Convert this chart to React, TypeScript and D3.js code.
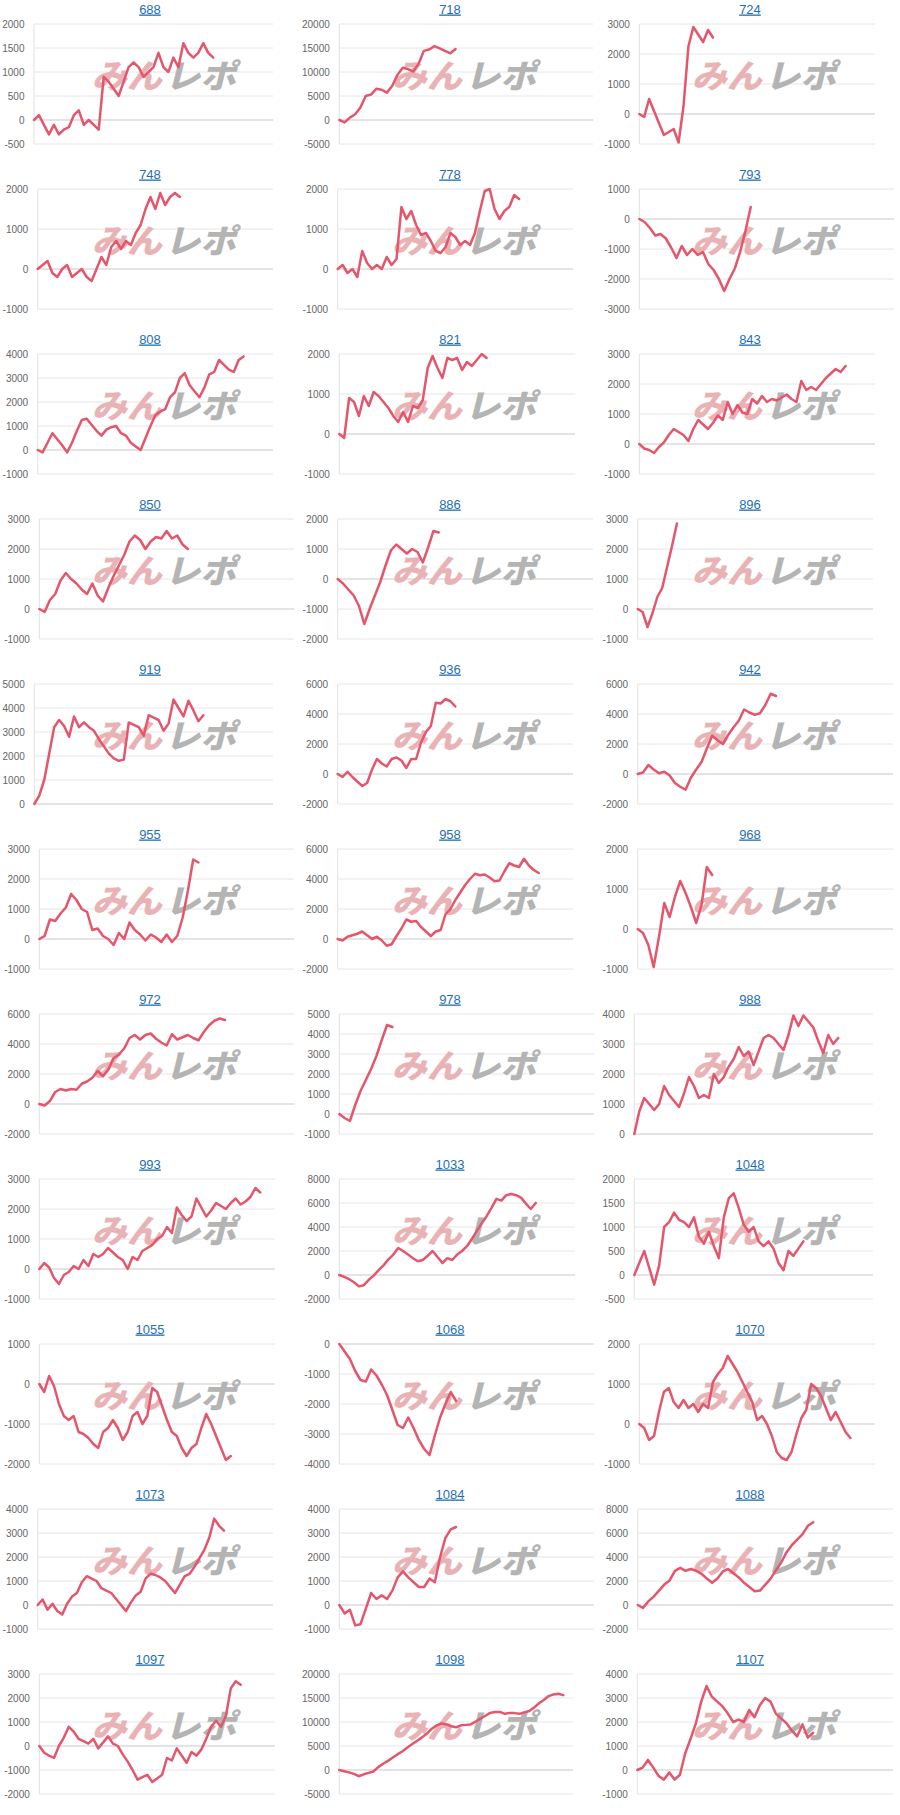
import React from 'react';
import * as d3 from 'd3';

const IDS = ['688','718','724','748','778','793','808','821','843','850','886','896','919','936','942','955','958','968','972','978','988','993','1033','1048','1055','1068','1070','1073','1084','1088','1097','1098','1107'];

const S688 = [0,100,-100,-300,-100,-300,-200,-150,100,200,-100,0,-100,-200,900,800,650,500,800,1100,1200,1100,900,1000,1100,1400,1100,1000,1300,1100,1600,1400,1300,1400,1600,1400,1300];
const S718 = [0,-500,500,1200,2600,5000,5300,6500,6300,5700,7100,9400,10900,10600,10100,11700,14400,14700,15400,14900,14400,13900,14800];
const S724 = [0,-100,500,100,-300,-700,-600,-500,-950,250,2250,2900,2650,2400,2800,2550];
const S748 = [0,100,200,-100,-200,0,100,-200,-100,0,-200,-300,0,300,100,550,700,500,700,600,900,1100,1500,1800,1500,1900,1600,1800,1900,1800];
const S778 = [0,100,-100,0,-200,450,150,0,100,0,300,100,250,1550,1250,1450,1100,850,900,700,450,400,550,900,800,600,700,600,900,1450,1950,2000,1500,1250,1450,1550,1850,1750];
const S793 = [0,-100,-300,-550,-500,-650,-950,-1300,-900,-1200,-1000,-1200,-1100,-1500,-1700,-2000,-2400,-2000,-1650,-1100,-400,400];
const S808 = [0,-100,300,700,450,200,-100,300,800,1250,1300,1050,800,600,850,950,1000,700,600,300,150,0,500,1000,1450,1600,1700,2200,2400,3000,3200,2700,2450,2200,2600,3150,3250,3750,3550,3350,3250,3750,3900];
const S821 = [0,-100,900,800,450,950,700,1050,950,800,650,450,300,550,300,700,650,850,1650,1950,1650,1400,1900,1850,1900,1600,1800,1700,1850,2000,1900];
const S843 = [0,-150,-200,-300,-100,50,300,500,400,300,100,500,800,650,500,700,950,800,1400,1000,1300,1050,1000,1500,1350,1600,1400,1500,1450,1550,1650,1500,1400,2100,1800,1900,1800,2000,2200,2350,2500,2400,2600];
const S850 = [0,-100,300,500,950,1200,1000,850,650,500,850,450,250,700,1100,1450,1800,2250,2450,2300,2000,2250,2400,2350,2600,2350,2450,2150,2000];
const S886 = [0,-150,-350,-550,-900,-1500,-1000,-550,-100,450,950,1150,1000,850,1000,900,550,1050,1600,1550];
const S896 = [0,-100,-600,-150,400,700,1400,2100,2850];
const S919 = [0,350,1000,2100,3200,3500,3250,2800,3650,3200,3400,3200,3050,2700,2400,2100,1900,1800,1850,3400,3300,3200,2850,3700,3600,3500,3050,3350,4350,4000,3650,4300,3900,3450,3700];
const S936 = [0,-200,150,-200,-500,-800,-600,300,1000,700,500,1000,1100,900,400,1000,1000,2100,2800,3200,4750,4700,5000,4850,4500];
const S942 = [0,100,600,300,50,150,-100,-600,-850,-1050,-250,300,800,1700,2550,2250,2000,2600,3100,3550,4300,4100,3950,4050,4600,5350,5200];
const S955 = [0,100,650,600,850,1050,1500,1300,1000,900,300,350,100,0,-200,200,0,550,300,150,-50,150,50,-100,150,-100,100,700,1600,2650,2550];
const S958 = [0,-100,150,250,350,500,250,0,150,-100,-450,-350,200,700,1300,1150,1200,800,500,200,500,600,1650,2000,2600,3100,3600,4000,4350,4250,4300,4100,3850,3900,4500,5050,4900,4800,5350,4900,4600,4400];
const S968 = [0,-100,-400,-950,-200,650,300,800,1200,900,550,150,600,1550,1350];
const S972 = [0,-100,200,800,1000,900,1000,950,1350,1500,1750,2200,1850,2300,3050,3300,3700,4400,4600,4300,4600,4700,4350,4100,3900,4650,4300,4450,4600,4400,4250,4800,5250,5550,5700,5600];
const S978 = [0,-200,-350,450,1150,1700,2250,2900,3700,4450,4350];
const S988 = [0,750,1200,1000,800,1000,1600,1300,1100,900,1350,1900,1600,1200,1300,1200,2000,1700,1900,2250,2500,2900,2600,2750,2300,2750,3200,3300,3200,3000,2800,3300,3950,3600,3950,3750,3550,3100,2700,3300,3000,3200];
const S993 = [0,200,50,-300,-500,-200,-100,100,0,300,100,500,400,500,700,550,400,300,0,400,300,600,700,800,1000,1100,1400,1200,2050,1800,1600,1750,2350,2050,1750,1950,2200,2100,2000,2200,2350,2150,2250,2400,2700,2550];
const S1033 = [0,-150,-350,-600,-950,-850,-400,-50,400,800,1300,1700,2250,2000,1700,1400,1150,1250,1600,2000,1500,1000,1400,1250,1700,2000,2400,3000,3650,4300,4900,5600,6350,6200,6650,6750,6650,6450,5950,5500,6000];
const S1048 = [0,250,500,150,-200,200,1000,1100,1300,1150,1100,1000,1200,800,650,900,600,350,1200,1600,1700,1400,1050,900,1000,700,600,700,550,250,100,500,400,550,700];
const S1055 = [0,-200,200,-50,-500,-800,-900,-800,-1200,-1250,-1350,-1500,-1600,-1200,-1100,-900,-1100,-1400,-1200,-800,-700,-1000,-800,-100,-200,-550,-900,-1200,-1300,-1600,-1800,-1600,-1500,-1100,-750,-1000,-1300,-1600,-1900,-1800];
const S1068 = [0,-250,-500,-900,-1200,-1250,-850,-1050,-1350,-1700,-2200,-2700,-2800,-2450,-2800,-3200,-3500,-3700,-3050,-2450,-2000,-1600,-1900];
const S1070 = [0,-100,-400,-300,300,800,900,550,400,600,400,500,300,500,400,1050,1250,1400,1700,1500,1300,1050,800,550,100,200,0,-300,-700,-850,-900,-700,-250,150,350,1000,900,700,400,100,300,50,-200,-350];
const S1073 = [0,230,-200,50,-250,-400,50,350,500,950,1200,1100,1000,700,600,500,250,0,-250,100,400,550,1100,1300,1250,1150,1000,750,500,850,1200,1300,1600,1950,2300,2800,3600,3300,3100];
const S1084 = [0,-350,-200,-850,-800,-150,500,250,400,250,600,1150,1400,1150,950,750,750,1100,950,2000,2800,3150,3250];
const S1088 = [0,-250,300,700,1200,1700,2050,2850,3100,2850,3000,2850,2600,2200,1850,2200,2800,3000,2650,2300,1850,1500,1150,1200,1700,2200,2900,3550,4400,5000,5450,5900,6600,6900];
const S1097 = [0,-280,-400,-500,0,350,800,600,300,200,100,300,-100,150,400,100,0,-350,-650,-1000,-1400,-1300,-1200,-1500,-1350,-1200,-500,-600,-100,-400,-700,-250,-400,-150,300,800,1050,800,1250,2400,2700,2550];
const S1098 = [0,-250,-500,-800,-1300,-900,-600,-300,600,1300,1900,2600,3300,3900,4700,5400,6100,6800,7600,8600,9300,9700,9500,9100,8900,9300,9400,9500,10100,10700,11300,11900,12100,12100,11700,11900,11850,11700,12000,12300,13000,13900,14600,15400,15750,15900,15600];
const S1107 = [0,100,420,100,-250,-400,-100,-400,-200,700,1300,1950,2850,3500,3050,2850,2650,2350,2000,2100,2000,2500,2200,2700,3000,2850,2350,2150,1950,1650,1400,1900,1350,1550];

const SERIES = [S688,S718,S724,S748,S778,S793,S808,S821,S843,S850,S886,S896,S919,S936,S942,S955,S958,S968,S972,S978,S988,S993,S1033,S1048,S1055,S1068,S1070,S1073,S1084,S1088,S1097,S1098,S1107];

const Y_MIN = [-500,-5000,-1000,-1000,-1000,-3000,-1000,-1000,-1000,-1000,-2000,-1000,0,-2000,-2000,-1000,-2000,-1000,-2000,-1000,0,-1000,-2000,-500,-2000,-4000,-1000,-1000,-1000,-2000,-2000,-5000,-1000];
const Y_MAX = [2000,20000,3000,2000,2000,1000,4000,2000,3000,3000,2000,3000,5000,6000,6000,3000,6000,2000,6000,5000,4000,3000,8000,2000,1000,0,2000,4000,4000,8000,3000,20000,4000];
const Y_STEP = [500,5000,1000,1000,1000,1000,1000,1000,1000,1000,1000,1000,1000,2000,2000,1000,2000,1000,2000,1000,1000,1000,2000,500,1000,1000,1000,1000,1000,2000,1000,5000,1000];

// layout (plot area edges inside each 300px panel)
const PLOT_LEFT = [34,39.3,39.3,37.7,37.7,39.3,37.7,39.3,39.3,39.3,37.7,37.7,34.3,37.7,37.7,39.3,37.7,37.7,39.3,39.3,34.3,39.3,39.3,34.3,39.3,39.3,39.3,37.7,39.3,37.7,39.3,39.3,37.3];
const PLOT_RIGHT = [273,293,275,273,273,294,273,275,275,294,293,273,273,273,293,294,273,293,294,294,273,275,275,273,275,294,275,273,294,293,275,273,293];
const X_SLOTS = 48;

const COL_W = 300;
const ROW_H = 165;
const PLOT_TOP = 24;
const PLOT_H = 120;
const FONT = "'Liberation Sans', Arial, Helvetica, sans-serif";

function Panel({ i }: { i: number }) {
  const col = i % 3;
  const row = Math.floor(i / 3);
  const gx = col * COL_W;
  const gy = row * ROW_H;
  const data = SERIES[i];
  const left = PLOT_LEFT[i];
  const right = PLOT_RIGHT[i];
  const x = d3.scaleLinear().domain([0, X_SLOTS]).range([left, right]);
  const y = d3.scaleLinear().domain([Y_MIN[i], Y_MAX[i]]).range([PLOT_TOP + PLOT_H, PLOT_TOP]);
  const ticks = d3.range(Y_MIN[i], Y_MAX[i] + Y_STEP[i] / 2, Y_STEP[i]);
  const line = d3.line<number>().x((_, j) => x(j)).y((d) => y(d));
  return (
    <g transform={`translate(${gx},${gy})`}>
      <text x={150} y={13.5} textAnchor="middle" fontSize={13} fill="#1f6fb3" style={{ textDecoration: 'underline' }}>{IDS[i]}</text>
      {ticks.map((t) => (
        <g key={t}>
          <line x1={left} x2={right} y1={y(t)} y2={y(t)} stroke={t === 0 ? '#c9c9c9' : '#e6e6e6'} strokeWidth={1} />
          <text x={left - 9.5} y={y(t) + 3.5} textAnchor="end" fontSize={10} fill="#666">{t}</text>
        </g>
      ))}
      <line x1={left} x2={left} y1={PLOT_TOP} y2={PLOT_TOP + PLOT_H} stroke="#e2e2e2" strokeWidth={1} />
      <g transform="translate(0,0)">
        <text x={93} y={88} fontSize={33} fontWeight={900} fill="#e9b3b5" textLength={70} lengthAdjust="spacingAndGlyphs" fontFamily="'Noto Sans CJK JP', sans-serif" transform="skewX(-14) translate(21,0)">みん</text>
        <text x={166} y={88} fontSize={33} fontWeight={900} fill="#b4b4b4" textLength={71} lengthAdjust="spacingAndGlyphs" fontFamily="'Noto Sans CJK JP', sans-serif" transform="skewX(-14) translate(21,0)">レポ</text>
      </g>
      <path d={line(data) || ''} fill="none" stroke="#e3566c" strokeWidth={2.5} strokeLinejoin="round" strokeLinecap="round" />
    </g>
  );
}

export default function App() {
  return (
    <svg width={900} height={1815} style={{ position: 'absolute', left: 0, top: 0, display: 'block', background: '#fff' }} fontFamily={FONT}>
      <rect x={0} y={0} width={900} height={1815} fill="#fff" />
      {IDS.map((id, i) => <Panel key={id} i={i} />)}
    </svg>
  );
}
